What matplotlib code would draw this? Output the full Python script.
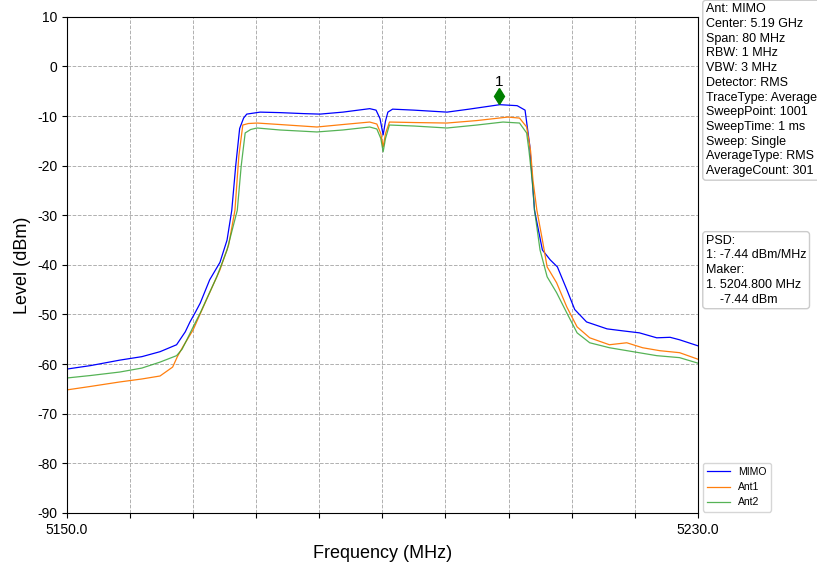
import matplotlib

matplotlib.use("Agg")

import matplotlib.pyplot as plt

plt.rcParams["font.family"] = ["Liberation Sans", "DejaVu Sans"]
plt.rcParams["axes.unicode_minus"] = False

# values (MHz, dBm)
mimo_freq = [5150.0, 5153.0, 5156.7, 5159.5, 5161.8, 5163.9, 5165.0, 5165.6,
             5166.3, 5166.9, 5168.1, 5169.4, 5170.3, 5170.9, 5171.4, 5171.9,
             5172.4, 5172.8, 5174.5, 5177.0, 5180.0, 5182.1, 5185.0, 5188.4,
             5189.2, 5189.7, 5190.1, 5190.4, 5190.7, 5191.3, 5194.0, 5198.2,
             5201.0, 5204.9, 5207.1, 5208.1, 5208.7, 5209.3, 5209.8, 5210.3,
             5211.3, 5212.2, 5213.4, 5214.4, 5215.9, 5218.5, 5220.5, 5222.6,
             5224.8, 5226.5, 5227.7, 5230.0]
mimo_level = [-61.0, -60.3, -59.2, -58.5, -57.5, -56.1, -53.5, -51.5,
              -49.5, -47.7, -43.0, -39.5, -35.0, -29.0, -20.0, -12.5,
              -10.4, -9.6, -9.2, -9.3, -9.5, -9.6, -9.2, -8.5,
              -8.8, -10.5, -13.8, -11.0, -9.2, -8.6, -8.8, -9.2,
              -8.6, -7.7, -7.9, -8.8, -16.0, -29.0, -33.0, -37.0,
              -39.0, -40.4, -45.0, -49.0, -51.5, -52.9, -53.3, -53.7,
              -54.7, -54.6, -55.1, -56.3]

ant1_freq = [5150.0, 5153.0, 5156.7, 5159.5, 5161.8, 5163.4, 5164.0, 5164.7,
             5166.0, 5167.7, 5169.4, 5170.5, 5171.3, 5171.8, 5172.3, 5173.0,
             5174.1, 5177.0, 5181.7, 5185.0, 5188.4, 5189.3, 5189.8, 5190.1,
             5190.4, 5190.9, 5194.0, 5198.2, 5202.0, 5205.9, 5207.4, 5208.3,
             5208.8, 5209.1, 5209.6, 5210.3, 5210.9, 5212.1, 5213.4, 5214.7,
             5216.3, 5218.8, 5221.0, 5223.0, 5225.2, 5227.7, 5230.0]
ant1_level = [-65.2, -64.5, -63.6, -63.0, -62.4, -60.6, -58.5, -56.5,
              -53.1, -47.0, -41.0, -36.0, -29.0, -18.0, -11.8, -11.5,
              -11.4, -11.7, -12.2, -11.7, -11.2, -11.6, -13.5, -16.2,
              -13.5, -11.2, -11.3, -11.4, -10.9, -10.2, -10.4, -12.2,
              -17.0, -22.9, -29.0, -35.0, -40.4, -43.6, -48.5, -52.5,
              -54.7, -56.1, -55.7, -56.7, -57.3, -57.7, -59.0]

ant2_freq = [5150.0, 5153.0, 5156.7, 5159.5, 5161.8, 5163.9, 5164.6, 5165.2,
             5166.0, 5166.9, 5169.0, 5170.3, 5171.6, 5172.1, 5172.6, 5173.3,
             5174.1, 5177.0, 5181.7, 5185.0, 5188.4, 5189.3, 5189.8, 5190.1,
             5190.4, 5190.9, 5194.0, 5198.2, 5202.0, 5205.3, 5207.4, 5208.3,
             5208.6, 5209.0, 5209.3, 5210.0, 5210.9, 5212.1, 5213.4, 5214.7,
             5216.3, 5218.8, 5221.8, 5224.8, 5227.7, 5230.0]
ant2_level = [-62.8, -62.3, -61.6, -60.8, -59.6, -58.3, -57.0, -55.1,
              -52.5, -49.7, -42.4, -37.0, -29.0, -20.0, -13.4, -12.7,
              -12.4, -12.8, -13.2, -12.8, -12.2, -12.6, -14.5, -17.2,
              -14.5, -11.8, -12.0, -12.4, -11.8, -11.2, -11.4, -13.4,
              -17.0, -22.9, -29.0, -37.0, -42.4, -45.6, -49.7, -53.7,
              -55.7, -56.7, -57.5, -58.3, -58.7, -59.8]

marker_freq = 5204.8
marker_level = -7.44

info_lines = ["Ant: MIMO", "Center: 5.19 GHz", "Span: 80 MHz", "RBW: 1 MHz",
              "VBW: 3 MHz", "Detector: RMS", "TraceType: Average",
              "SweepPoint: 1001", "SweepTime: 1 ms", "Sweep: Single",
              "AverageType: RMS", "AverageCount: 301"]
psd_lines = ["PSD:", "1: -7.44 dBm/MHz", "Maker:", "1. 5204.800 MHz",
             "    -7.44 dBm"]

fig = plt.figure(figsize=(8.17, 5.63), dpi=100)
ax = fig.add_axes([0.082, 0.089, 0.772, 0.881])

ax.plot(mimo_freq, mimo_level, color="#0000ff", linewidth=0.9, label="MIMO")
ax.plot(ant1_freq, ant1_level, color="#ff7f0e", linewidth=0.9, label="Ant1")
ax.plot(ant2_freq, ant2_level, color="#2ca02c", linewidth=0.9, alpha=0.8,
        label="Ant2")

# marker drawn slightly above the trace, as the analyser does
ax.plot(marker_freq, marker_level + 1.5, marker="d", color="green",
        markersize=8, linestyle="none")
ax.text(marker_freq, marker_level + 3.0, "1", ha="center", va="bottom",
        fontsize=11)

ax.set_xlim(5150, 5230)
ax.set_ylim(-90, 10)
ticks = [5150 + 8 * i for i in range(11)]
ax.set_xticks(ticks)
ax.set_xticklabels(["5150.0"] + [""] * 9 + ["5230.0"])
ax.set_yticks(range(-90, 11, 10))
ax.tick_params(labelsize=10)
ax.grid(True, linestyle="--", color="#b0b0b0", linewidth=0.7)
ax.set_xlabel("Frequency (MHz)", fontsize=13, labelpad=6)
ax.set_ylabel("Level (dBm)", fontsize=13)

box = dict(boxstyle="round,pad=0.25", facecolor="white", edgecolor="#cccccc")
fig.text(0.864, 0.994, "\n".join(info_lines), fontsize=9, va="top",
         ha="left", linespacing=1.3, bbox=box)
fig.text(0.864, 0.583, "\n".join(psd_lines), fontsize=9, va="top",
         ha="left", linespacing=1.3, bbox=box)

ax.legend(loc="upper left", bbox_to_anchor=(0.860, 0.178),
          bbox_transform=fig.transFigure, fontsize=7.5, borderaxespad=0,
          handlelength=2.2)

fig.savefig("out.png", dpi=100)
